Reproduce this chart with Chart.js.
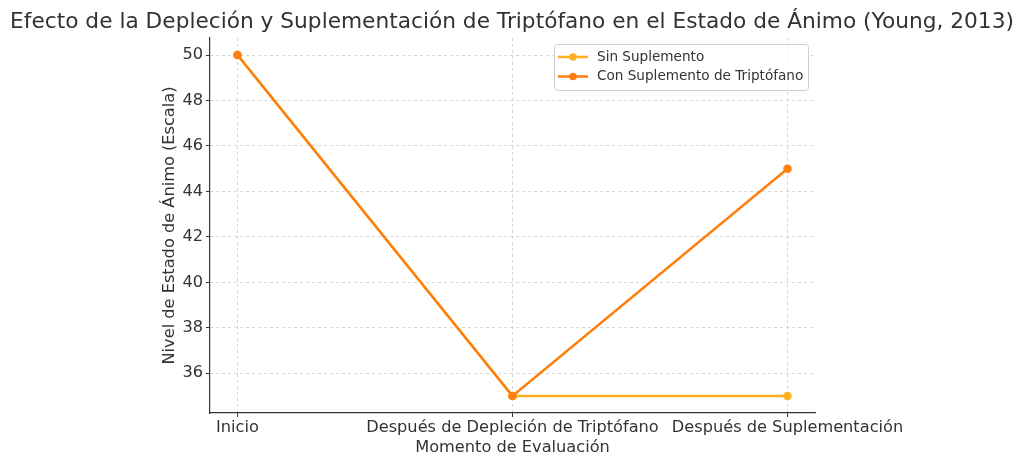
<!DOCTYPE html>
<html><head><meta charset="utf-8">
<script src="https://cdn.jsdelivr.net/npm/chart.js@4.4.0/dist/chart.umd.min.js"></script>
<style>html,body{margin:0;padding:0;background:#fff;}canvas{display:block;}</style>
</head><body>
<canvas id="c" width="1024" height="466"></canvas>
<script>
const categories = ["Inicio", "Después de Depleción de Triptófano", "Después de Suplementación"];
const sinSuplemento = [50, 35, 35];
const conSuplemento = [50, 35, 45];
const yTicks = [36, 38, 40, 42, 44, 46, 48, 50];
const titleText = "Efecto de la Depleción y Suplementación de Triptófano en el Estado de Ánimo (Young, 2013)";
const xTitle = "Momento de Evaluación";
const yTitle = "Nivel de Estado de Ánimo (Escala)";
const seriesLabels = ["Sin Suplemento", "Con Suplemento de Triptófano"];
const seriesColors = ["#FFB020", "#FF7F0E"];

const FONT = "'DejaVu Sans', sans-serif";
const TXT = "#333333";

const toPts = arr => arr.map((v, i) => ({x: i, y: v}));

const overlay = {
  id: 'overlay',
  afterDraw(chart) {
    const ctx = chart.ctx, a = chart.chartArea;
    ctx.save();
    ctx.fillStyle = TXT;
    ctx.textBaseline = 'middle';
    ctx.textAlign = 'center';
    ctx.font = "21.7px " + FONT;
    ctx.fillText(titleText, 512, 22);
    ctx.font = "16.2px " + FONT;
    ctx.fillText(xTitle, (a.left + a.right) / 2, 448);
    ctx.save();
    ctx.translate(170, (a.top + a.bottom) / 2);
    ctx.rotate(-Math.PI / 2);
    ctx.fillText(yTitle, 0, 0);
    ctx.restore();
    // legend
    const lx = 554, ly = 44, lw = 254, lh = 46;
    ctx.fillStyle = "rgba(255,255,255,0.8)";
    ctx.strokeStyle = "#d0d0d0";
    ctx.lineWidth = 1;
    ctx.beginPath();
    if (ctx.roundRect) ctx.roundRect(lx + 0.5, ly + 0.5, lw, lh, 3); else ctx.rect(lx + 0.5, ly + 0.5, lw, lh);
    ctx.fill(); ctx.stroke();
    ctx.font = "13.6px " + FONT;
    ctx.textAlign = 'left';
    chart.data.datasets.forEach((ds, i) => {
      const yy = ly + 13 + i * 19.5;
      ctx.strokeStyle = ds.borderColor;
      ctx.lineWidth = 2.5;
      ctx.beginPath(); ctx.moveTo(558, yy); ctx.lineTo(588, yy); ctx.stroke();
      ctx.fillStyle = ds.borderColor;
      ctx.beginPath(); ctx.arc(573, yy, 3.8, 0, Math.PI * 2); ctx.fill();
      ctx.fillStyle = TXT;
      ctx.fillText(ds.label, 597, yy);
    });
    ctx.restore();
  }
};

new Chart(document.getElementById('c'), {
  type: 'line',
  data: {
    datasets: [
      {label: seriesLabels[0], data: toPts(sinSuplemento), borderColor: seriesColors[0], backgroundColor: seriesColors[0], borderWidth: 2.5, pointRadius: 4.3, pointBorderWidth: 0, pointHoverRadius: 4.3, order: 1, tension: 0},
      {label: seriesLabels[1], data: toPts(conSuplemento), borderColor: seriesColors[1], backgroundColor: seriesColors[1], borderWidth: 2.5, pointRadius: 4.3, pointBorderWidth: 0, pointHoverRadius: 4.3, order: 0, tension: 0}
    ]
  },
  options: {
    responsive: false,
    animation: false,
    events: [],
    layout: {padding: {top: 38, right: 209, left: 0, bottom: 0}},
    plugins: {legend: {display: false}, title: {display: false}, tooltip: {enabled: false}},
    scales: {
      x: {
        type: 'linear', min: -0.1, max: 2.1,
        afterBuildTicks: s => { s.ticks = categories.map((c, i) => ({value: i})); },
        afterFit: s => { s.height = 53; },
        ticks: {callback: v => categories[v], color: TXT, font: {family: FONT, size: 16.2}, padding: 1, maxRotation: 0, autoSkip: false},
        grid: {color: "#cccccc", lineWidth: 0.8, tickColor: TXT, tickLength: 4, tickWidth: 1},
        border: {display: true, color: TXT, width: 1.2, dash: [3, 3]}
      },
      y: {
        type: 'linear', min: 34.25, max: 50.75,
        afterBuildTicks: s => { s.ticks = yTicks.map(v => ({value: v})); },
        afterFit: s => { s.width = 210; },
        ticks: {color: TXT, font: {family: FONT, size: 16.2}, padding: 3},
        grid: {color: "#cccccc", lineWidth: 0.8, tickColor: TXT, tickLength: 4, tickWidth: 1},
        border: {display: true, color: TXT, width: 1.2, dash: [3, 3]}
      }
    }
  },
  plugins: [overlay]
});
</script>
</body></html>
